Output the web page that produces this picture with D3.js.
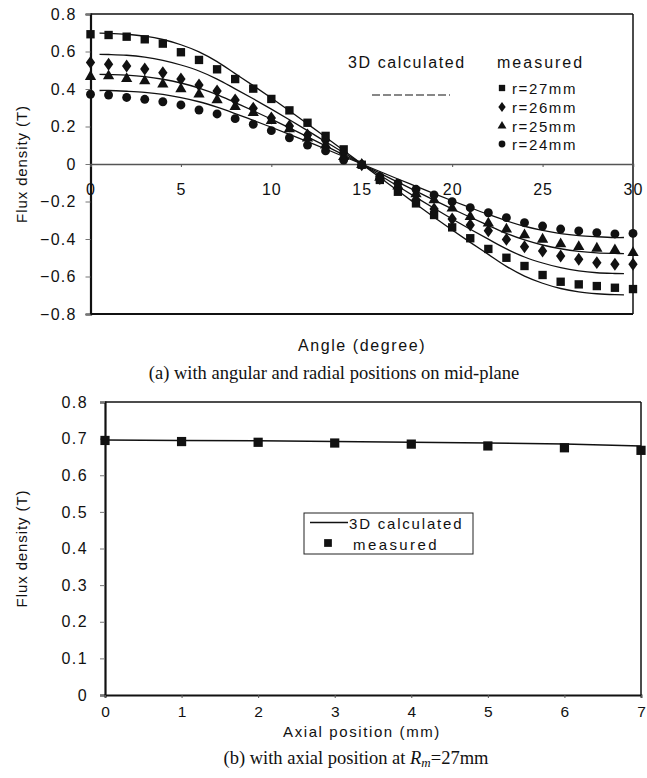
<!DOCTYPE html>
<html>
<head>
<meta charset="utf-8">
<script src="https://cdn.jsdelivr.net/npm/d3@7"></script>
<style>
  body { margin: 0; background: #fff; }
  svg { display: block; }
  text { font-family: "Liberation Sans", Arial, sans-serif; fill: #111; }
  .cap { font-family: "Liberation Serif", "Times New Roman", serif; }
</style>
</head>
<body>
<div id="chart"></div>
<script>
// --- data, chart (a): flux density vs angle on mid-plane ---
const angles = d3.range(0, 31);
const r27 = [0.692, 0.688, 0.679, 0.665, 0.642, 0.596, 0.555, 0.505, 0.453, 0.402, 0.347, 0.286, 0.220, 0.150, 0.078, -0.004,
             -0.085, -0.148, -0.210, -0.272, -0.338, -0.396, -0.453, -0.500, -0.544, -0.592, -0.628, -0.642, -0.651, -0.660, -0.667];
const r26 = [0.542, 0.532, 0.523, 0.507, 0.487, 0.453, 0.421, 0.389, 0.341, 0.297, 0.245, 0.203, 0.155, 0.125, 0.057, -0.004,
             -0.077, -0.128, -0.190, -0.240, -0.293, -0.325, -0.356, -0.402, -0.441, -0.464, -0.491, -0.508, -0.526, -0.535, -0.535];
const r25 = [0.466, 0.469, 0.455, 0.443, 0.425, 0.400, 0.372, 0.341, 0.306, 0.274, 0.231, 0.187, 0.137, 0.100, 0.039, -0.004,
             -0.072, -0.118, -0.160, -0.192, -0.236, -0.281, -0.316, -0.348, -0.379, -0.402, -0.427, -0.441, -0.450, -0.459, -0.473];
const r24 = [0.372, 0.368, 0.355, 0.345, 0.332, 0.315, 0.288, 0.267, 0.242, 0.212, 0.178, 0.140, 0.101, 0.070, 0.021, -0.004,
             -0.068, -0.103, -0.135, -0.165, -0.201, -0.233, -0.260, -0.286, -0.313, -0.331, -0.347, -0.357, -0.366, -0.373, -0.370];

const calcAngles = [0.5, 1, 2, 3, 4, 5, 6, 7, 8, 9, 10, 11, 12, 13, 14, 15, 16, 17, 18, 19, 20, 21, 22, 23, 24, 25, 26, 27, 28, 29, 29.5];
const c27 = [0.698, 0.697, 0.692, 0.682, 0.664, 0.636, 0.598, 0.546, 0.482, 0.418, 0.352, 0.284, 0.214, 0.143, 0.072, 0,
             -0.072, -0.143, -0.214, -0.284, -0.352, -0.418, -0.482, -0.546, -0.598, -0.636, -0.664, -0.682, -0.692, -0.697, -0.698];
const c26 = [0.585, 0.584, 0.580, 0.570, 0.553, 0.528, 0.496, 0.453, 0.401, 0.348, 0.293, 0.236, 0.178, 0.119, 0.060, 0,
             -0.060, -0.119, -0.178, -0.236, -0.293, -0.348, -0.401, -0.453, -0.496, -0.528, -0.553, -0.570, -0.580, -0.584, -0.585];
const c25 = [0.478, 0.477, 0.474, 0.466, 0.452, 0.432, 0.405, 0.370, 0.327, 0.284, 0.239, 0.193, 0.145, 0.097, 0.049, 0,
             -0.049, -0.097, -0.145, -0.193, -0.239, -0.284, -0.327, -0.370, -0.405, -0.432, -0.452, -0.466, -0.474, -0.477, -0.478];
const c24 = [0.392, 0.392, 0.388, 0.382, 0.371, 0.354, 0.332, 0.303, 0.269, 0.233, 0.196, 0.158, 0.119, 0.080, 0.040, 0,
             -0.040, -0.080, -0.119, -0.158, -0.196, -0.233, -0.269, -0.303, -0.332, -0.354, -0.371, -0.382, -0.388, -0.392, -0.392];

const seriesLabels = ["r=27mm", "r=26mm", "r=25mm", "r=24mm"];
const angleTicks = [0, 5, 10, 15, 20, 25, 30];
const fluxTicksA = [-0.8, -0.6, -0.4, -0.2, 0, 0.2, 0.4, 0.6, 0.8];

// --- data, chart (b): flux density vs axial position at Rm=27mm ---
const axialPos = [0, 1, 2, 3, 4, 5, 6, 7];
const axialMeasured = [0.695, 0.692, 0.690, 0.688, 0.685, 0.680, 0.675, 0.668];
const axialCalc = [0.696, 0.695, 0.694, 0.692, 0.690, 0.688, 0.685, 0.680];
const fluxTicksB = [0, 0.1, 0.2, 0.3, 0.4, 0.5, 0.6, 0.7, 0.8];

const W = 647, H = 778;
const svg = d3.select("#chart").append("svg").attr("width", W).attr("height", H);
const sans = "'Liberation Sans', Arial, sans-serif";

// ================= chart (a) =================
const xa = d3.scaleLinear().domain([0, 30]).range([90.5, 633]);
const ya = d3.scaleLinear().domain([-0.8, 0.8]).range([314, 14]);
const ga = svg.append("g");

// frame
ga.append("line").attr("x1", xa(0)).attr("x2", xa(30)).attr("y1", ya(0.8)).attr("y2", ya(0.8))
  .style("stroke", "#111").style("stroke-width", 1.5);
ga.append("line").attr("x1", xa(30)).attr("x2", xa(30)).attr("y1", ya(0.8)).attr("y2", ya(-0.8))
  .style("stroke", "#111").style("stroke-width", 1.5);
ga.append("line").attr("x1", xa(0)).attr("x2", xa(30)).attr("y1", ya(-0.8)).attr("y2", ya(-0.8))
  .style("stroke", "#111").style("stroke-width", 2);

// y axis
const yAxisA = d3.axisLeft(ya).tickValues(fluxTicksA).tickSize(5).tickPadding(9)
  .tickFormat(d => d === 0 ? "0" : d3.format(".1f")(d));
const yaG = ga.append("g").attr("transform", `translate(${xa(0)},0)`).call(yAxisA);
yaG.select(".domain").style("stroke", "#111").style("stroke-width", 2.2);
yaG.selectAll(".tick line").style("stroke", "#777");
yaG.selectAll("text").style("font-size", "16px").style("letter-spacing", "1.2px")
  .style("font-family", sans);

// x axis on zero line
const xAxisA = d3.axisBottom(xa).tickValues(angleTicks).tickSize(3).tickPadding(17);
const xaG = ga.append("g").attr("transform", `translate(0,${ya(0)})`).call(xAxisA);
xaG.select(".domain").style("stroke", "#555").style("stroke-width", 1.5);
xaG.selectAll(".tick line").style("stroke", "#555");
xaG.selectAll("text").style("font-size", "16px").style("letter-spacing", "1px")
  .style("font-family", sans);

// calculated curves
const lineA = d3.line().x(d => xa(d[0])).y(d => ya(d[1])).curve(d3.curveCatmullRom);
[c27, c26, c25, c24].forEach(arr => {
  ga.append("path").datum(calcAngles.map((a, i) => [a, arr[i]]))
    .attr("d", lineA).style("fill", "none").style("stroke", "#111").style("stroke-width", 1.3);
});

// measured markers
const symSquare = d3.symbol().type(d3.symbolSquare).size(70);
const symDiamond = d3.symbol().type(d3.symbolDiamond).size(48);
const symTriangle = d3.symbol().type(d3.symbolTriangle).size(55);
const symCircle = d3.symbol().type(d3.symbolCircle).size(62);
const markers = [symSquare, symDiamond, symTriangle, symCircle];
[r27, r26, r25, r24].forEach((arr, k) => {
  ga.selectAll(null).data(angles.map((a, i) => [a, arr[i]])).enter().append("path")
    .attr("d", markers[k])
    .attr("transform", d => `translate(${xa(d[0])},${ya(d[1])})` + (k === 1 ? " scale(1.25,1)" : ""))
    .style("fill", "#111");
});

// y title
ga.append("text").attr("transform", `translate(21,${ya(0)}) rotate(-90)`)
  .attr("text-anchor", "middle").attr("dominant-baseline", "central")
  .style("font-size", "15px").style("letter-spacing", "0.9px").text("Flux density (T)");
// x title
ga.append("text").attr("x", 362).attr("y", 345).attr("text-anchor", "middle")
  .attr("dominant-baseline", "central").style("font-size", "16px").style("letter-spacing", "1.6px")
  .text("Angle (degree)");

// legend (a)
ga.append("text").attr("x", 348).attr("y", 62).attr("dominant-baseline", "central")
  .style("font-size", "16px").style("letter-spacing", "1.6px").text("3D calculated");
ga.append("text").attr("x", 497).attr("y", 62).attr("dominant-baseline", "central")
  .style("font-size", "16px").style("letter-spacing", "2px").text("measured");
ga.append("line").attr("x1", 372).attr("x2", 450).attr("y1", 95).attr("y2", 95)
  .style("stroke", "#111").style("stroke-width", 1.2).style("stroke-dasharray", "8,3");
const legY = [88, 107, 126, 144];
const legSyms = [
  d3.symbol().type(d3.symbolSquare).size(40),
  d3.symbol().type(d3.symbolDiamond).size(30),
  d3.symbol().type(d3.symbolTriangle).size(34),
  d3.symbol().type(d3.symbolCircle).size(36)
];
seriesLabels.forEach((lab, i) => {
  ga.append("path").attr("d", legSyms[i]).attr("transform", `translate(502,${legY[i]})` + (i === 1 ? " scale(1.25,1)" : ""))
    .style("fill", "#111");
  ga.append("text").attr("x", 512).attr("y", legY[i]).attr("dominant-baseline", "central")
    .style("font-size", "15px").style("letter-spacing", "1.6px").text(lab);
});

// caption (a)
svg.append("text").attr("class", "cap").attr("x", 334).attr("y", 373).attr("text-anchor", "middle")
  .attr("dominant-baseline", "central").style("font-size", "18.5px")
  .text("(a) with angular and radial positions on mid-plane");

// ================= chart (b) =================
const xb = d3.scaleLinear().domain([0, 7]).range([105, 641]);
const yb = d3.scaleLinear().domain([0, 0.8]).range([695, 402]);
const gb = svg.append("g");

gb.append("line").attr("x1", xb(0)).attr("x2", xb(7)).attr("y1", yb(0.8)).attr("y2", yb(0.8))
  .style("stroke", "#111").style("stroke-width", 1.5);
gb.append("line").attr("x1", xb(7)).attr("x2", xb(7)).attr("y1", yb(0.8)).attr("y2", yb(0))
  .style("stroke", "#111").style("stroke-width", 1.5);

const yAxisB = d3.axisLeft(yb).tickValues(fluxTicksB).tickSize(5).tickPadding(12)
  .tickFormat(d => d === 0 ? "0" : d3.format(".1f")(d));
const ybG = gb.append("g").attr("transform", `translate(${xb(0)},0)`).call(yAxisB);
ybG.select(".domain").style("stroke", "#111").style("stroke-width", 2.2);
ybG.selectAll(".tick line").style("stroke", "#777");
ybG.selectAll("text").style("font-size", "16px").style("letter-spacing", "1.4px")
  .style("font-family", sans);

const xAxisB = d3.axisBottom(xb).tickValues(axialPos).tickSize(3).tickPadding(8)
  .tickFormat(d3.format("d"));
const xbG = gb.append("g").attr("transform", `translate(0,${yb(0)})`).call(xAxisB);
xbG.select(".domain").style("stroke", "#111").style("stroke-width", 1.8);
xbG.selectAll(".tick line").style("stroke", "#555");
xbG.selectAll("text").style("font-size", "15.5px")
  .style("font-family", sans);

const lineB = d3.line().x((d, i) => xb(axialPos[i])).y(d => yb(d));
gb.append("path").datum(axialCalc).attr("d", lineB)
  .style("fill", "none").style("stroke", "#111").style("stroke-width", 1.5);
gb.selectAll(null).data(axialMeasured).enter().append("path")
  .attr("d", d3.symbol().type(d3.symbolSquare).size(85))
  .attr("transform", (d, i) => `translate(${xb(axialPos[i])},${yb(d)})`)
  .style("fill", "#111");

gb.append("text").attr("transform", `translate(21,${yb(0.4)}) rotate(-90)`)
  .attr("text-anchor", "middle").attr("dominant-baseline", "central")
  .style("font-size", "15px").style("letter-spacing", "0.9px").text("Flux density (T)");
gb.append("text").attr("x", 362).attr("y", 731).attr("text-anchor", "middle")
  .attr("dominant-baseline", "central").style("font-size", "15px").style("letter-spacing", "1.6px")
  .text("Axial position (mm)");

// legend (b)
gb.append("rect").attr("x", 304).attr("y", 513).attr("width", 169).attr("height", 41)
  .style("fill", "#fff").style("stroke", "#222").style("stroke-width", 1);
gb.append("line").attr("x1", 310).attr("x2", 348).attr("y1", 522.5).attr("y2", 522.5)
  .style("stroke", "#111").style("stroke-width", 1.5);
gb.append("text").attr("x", 349).attr("y", 523).attr("dominant-baseline", "central")
  .style("font-size", "15px").style("letter-spacing", "1.8px").text("3D calculated");
gb.append("path").attr("d", d3.symbol().type(d3.symbolSquare).size(60))
  .attr("transform", "translate(328,543)").style("fill", "#111");
gb.append("text").attr("x", 353).attr("y", 544).attr("dominant-baseline", "central")
  .style("font-size", "15px").style("letter-spacing", "2.4px").text("measured");

// caption (b)
const capB = svg.append("text").attr("class", "cap").attr("x", 356).attr("y", 758).attr("text-anchor", "middle")
  .attr("dominant-baseline", "central").style("font-size", "18.5px");
capB.append("tspan").text("(b) with axial position at ");
capB.append("tspan").style("font-style", "italic").text("R");
capB.append("tspan").style("font-style", "italic").style("font-size", "13px").attr("dy", 4).text("m");
capB.append("tspan").attr("dy", -4).text("=27mm");
</script>
</body>
</html>
